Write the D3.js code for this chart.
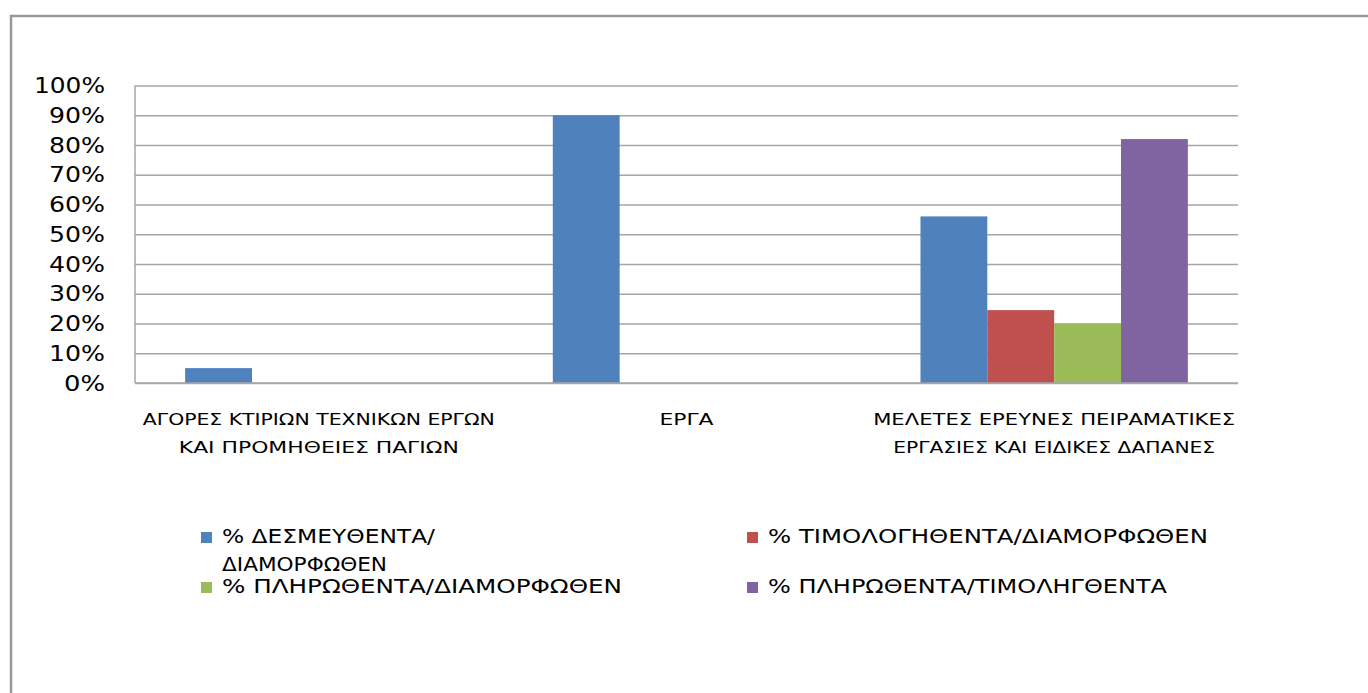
<!DOCTYPE html>
<html>
<head>
<meta charset="utf-8">
<script src="https://cdn.jsdelivr.net/npm/d3@7"></script>
<style>
  body { margin: 0; background: #fff; }
  svg { display: block; }
</style>
</head>
<body>
<svg width="1368" height="693"></svg>
<script>
// chart data
var categories = [
  ["ΑΓΟΡΕΣ ΚΤΙΡΙΩΝ ΤΕΧΝΙΚΩΝ ΕΡΓΩΝ", "ΚΑΙ ΠΡΟΜΗΘΕΙΕΣ ΠΑΓΙΩΝ"],
  ["ΕΡΓΑ"],
  ["ΜΕΛΕΤΕΣ ΕΡΕΥΝΕΣ ΠΕΙΡΑΜΑΤΙΚΕΣ", "ΕΡΓΑΣΙΕΣ ΚΑΙ ΕΙΔΙΚΕΣ ΔΑΠΑΝΕΣ"]
];
var seriesNames = [
  "% ΔΕΣΜΕΥΘΕΝΤΑ/ΔΙΑΜΟΡΦΩΘΕΝ",
  "% ΤΙΜΟΛΟΓΗΘΕΝΤΑ/ΔΙΑΜΟΡΦΩΘΕΝ",
  "% ΠΛΗΡΩΘΕΝΤΑ/ΔΙΑΜΟΡΦΩΘΕΝ",
  "% ΠΛΗΡΩΘΕΝΤΑ/ΤΙΜΟΛΗΓΘΕΝΤΑ"
];
var desmeuthenta   = [0.05, 0.90, 0.56];
var timologithenta = [0, 0, 0.245];
var plirothenta    = [0, 0, 0.20];
var plirothentaTim = [0, 0, 0.82];
var yTicks = [0, 0.1, 0.2, 0.3, 0.4, 0.5, 0.6, 0.7, 0.8, 0.9, 1.0];

var colors = ["#4f81bd", "#c0504d", "#9bbb59", "#8064a2"];
var series = [desmeuthenta, timologithenta, plirothenta, plirothentaTim];

var svg = d3.select("svg");

// outer frame (top + left only visible)
svg.append("path")
  .attr("d", "M11,693 V16 H1368")
  .attr("fill", "none")
  .attr("stroke", "#999")
  .attr("stroke-width", 2.5);

var margin = {left: 135, right: 130, top: 85.5, bottom: 310},
    width = 1368 - margin.left - margin.right,
    height = 693 - margin.top - margin.bottom;

var g = svg.append("g").attr("transform", "translate(" + margin.left + "," + margin.top + ")");

var x0 = d3.scaleBand()
  .domain(d3.range(categories.length))
  .range([0, width])
  .paddingInner(0)
  .paddingOuter(0);

// excel gap width 150%: 4 bars + 1.5 bar width per group
var barW = x0.bandwidth() / 5.5;
var x1 = d3.scaleBand()
  .domain(d3.range(series.length))
  .range([barW * 0.75, barW * 4.75]);

var y = d3.scaleLinear().domain([0, 1]).range([height, 0]);

// gridlines
g.append("g")
  .attr("class", "grid")
  .call(d3.axisLeft(y).tickValues(yTicks).tickSize(-width).tickFormat(""))
  .call(function(s) {
    s.select(".domain").remove();
    s.selectAll("line").attr("stroke", "#a6a6a6").attr("stroke-width", 1.3);
  });

// y labels
var fmt = d3.format(".0%");
g.append("g")
  .call(d3.axisLeft(y).tickValues(yTicks).tickSize(0).tickPadding(30).tickFormat(fmt))
  .call(function(s) {
    s.select(".domain").remove();
    s.selectAll("text")
      .attr("font-family", "DejaVu Sans")
      .attr("font-size", 22)
      .attr("fill", "#000")
      .attr("textLength", function(d) { return (fmt(d).length - 1) * 15 + 26; })
      .attr("lengthAdjust", "spacingAndGlyphs");
  });

// bars
series.forEach(function(vals, si) {
  g.append("g").selectAll("rect")
    .data(vals)
    .enter().append("rect")
    .attr("x", function(d, i) { return x0(i) + x1(si); })
    .attr("y", function(d) { return y(d); })
    .attr("width", x1.bandwidth())
    .attr("height", function(d) { return height - y(d); })
    .attr("fill", colors[si]);
});

// axes lines
g.append("line").attr("x1", 0).attr("x2", width).attr("y1", height).attr("y2", height)
  .attr("stroke", "#a6a6a6").attr("stroke-width", 1.5);
g.append("line").attr("x1", 0).attr("x2", 0).attr("y1", 0).attr("y2", height)
  .attr("stroke", "#a6a6a6").attr("stroke-width", 1.5);

// category labels
var catLen = [[352, 280], [54], [362, 322]];
categories.forEach(function(lines, ci) {
  lines.forEach(function(t, li) {
    g.append("text")
      .attr("x", x0(ci) + x0.bandwidth() / 2)
      .attr("y", height + 42 + li * 28)
      .attr("text-anchor", "middle")
      .attr("font-family", "DejaVu Sans")
      .attr("font-size", 16)
      .attr("textLength", catLen[ci][li])
      .attr("lengthAdjust", "spacingAndGlyphs")
      .text(t);
  });
});

// legend
var legend = [
  {i: 0, x: 201, y: 543, lines: ["% ΔΕΣΜΕΥΘΕΝΤΑ/", "ΔΙΑΜΟΡΦΩΘΕΝ"], len: [213, 165]},
  {i: 1, x: 747, y: 543, lines: ["% ΤΙΜΟΛΟΓΗΘΕΝΤΑ/ΔΙΑΜΟΡΦΩΘΕΝ"], len: [440]},
  {i: 2, x: 201, y: 593, lines: ["% ΠΛΗΡΩΘΕΝΤΑ/ΔΙΑΜΟΡΦΩΘΕΝ"], len: [400]},
  {i: 3, x: 747, y: 593, lines: ["% ΠΛΗΡΩΘΕΝΤΑ/ΤΙΜΟΛΗΓΘΕΝΤΑ"], len: [399]}
];
legend.forEach(function(l) {
  svg.append("rect")
    .attr("x", l.x).attr("y", l.y - 11)
    .attr("width", 11).attr("height", 11)
    .attr("fill", colors[l.i]);
  l.lines.forEach(function(t, li) {
    svg.append("text")
      .attr("x", l.x + 21)
      .attr("y", l.y + li * 28)
      .attr("font-family", "DejaVu Sans")
      .attr("font-size", 19)
      .attr("textLength", l.len[li])
      .attr("lengthAdjust", "spacingAndGlyphs")
      .text(t);
  });
});
</script>
</body>
</html>
